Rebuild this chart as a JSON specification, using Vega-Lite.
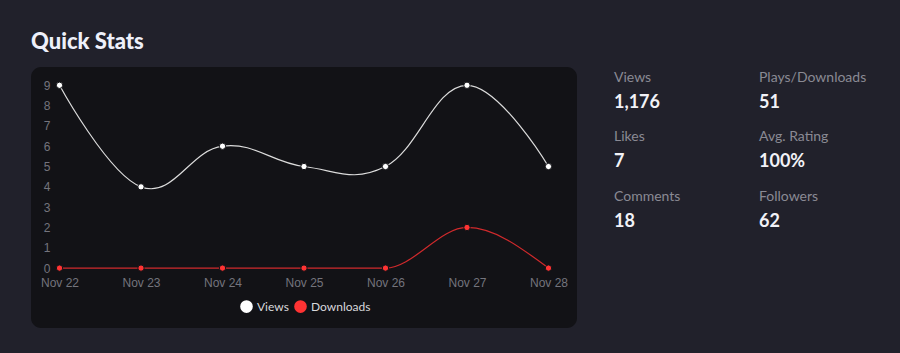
{
  "$schema": "https://vega.github.io/schema/vega-lite/v6.json",
  "background": "#21212b",
  "padding": {"left": 31, "top": 31, "right": 40, "bottom": 30},
  "title": {"text": "Quick Stats", "anchor": "start", "font": "Lato", "fontSize": 22, "fontWeight": 900, "color": "#eef0fa", "offset": 13},
  "config": {"view": {"stroke": null}},
  "spacing": 37,
  "hconcat": [
    {
      "width": 546,
      "height": 261,
      "view": {"fill": "#121216", "cornerRadius": 10, "stroke": null},
      "data": {"values": [
        {"date": "Nov 22", "series": "Views", "value": 9},
        {"date": "Nov 23", "series": "Views", "value": 4},
        {"date": "Nov 24", "series": "Views", "value": 6},
        {"date": "Nov 25", "series": "Views", "value": 5},
        {"date": "Nov 26", "series": "Views", "value": 5},
        {"date": "Nov 27", "series": "Views", "value": 9},
        {"date": "Nov 28", "series": "Views", "value": 5},
        {"date": "Nov 22", "series": "Downloads", "value": 0},
        {"date": "Nov 23", "series": "Downloads", "value": 0},
        {"date": "Nov 24", "series": "Downloads", "value": 0},
        {"date": "Nov 25", "series": "Downloads", "value": 0},
        {"date": "Nov 26", "series": "Downloads", "value": 0},
        {"date": "Nov 27", "series": "Downloads", "value": 2},
        {"date": "Nov 28", "series": "Downloads", "value": 0}
      ]},
      "encoding": {
        "x": {"field": "date", "type": "ordinal", "sort": null,
          "scale": {"type": "point", "padding": 0.35},
          "axis": {"orient": "bottom", "offset": -55, "ticks": false, "domain": false, "labelPadding": 4, "labelAngle": 0, "title": null, "labelColor": "#74747d", "labelFont": "Liberation Sans", "labelFontSize": 12, "grid": false}},
        "y": {"field": "value", "type": "quantitative",
          "scale": {"domain": [-2.95, 9.9], "nice": false, "zero": false},
          "axis": {"values": [0, 1, 2, 3, 4, 5, 6, 7, 8, 9], "offset": -29, "ticks": false, "labelPadding": 10, "domain": false, "grid": false, "title": null, "labelColor": "#74747d", "labelFont": "Liberation Sans", "labelFontSize": 12}},
        "color": {"field": "series", "type": "nominal", "sort": null,
          "scale": {"domain": ["Views", "Downloads"], "range": ["#ffffff", "#ff3333"]},
          "legend": {"orient": "none", "legendX": 209, "legendY": 233, "direction": "horizontal", "title": null, "symbolType": "circle", "symbolSize": 160, "symbolStrokeWidth": 0, "labelFont": "Lato", "labelFontSize": 12, "labelColor": "#d8d8dc", "columnPadding": 5, "labelOffset": 4}}
      },
      "layer": [
        {"transform": [{"filter": "datum.series === 'Views'"}],
         "mark": {"type": "line", "interpolate": "cardinal", "tension": -0.2, "strokeWidth": 1.2},
         "encoding": {"color": {"value": "#dcdcdc"}}},
        {"transform": [{"filter": "datum.series === 'Downloads'"}],
         "mark": {"type": "line", "interpolate": "monotone", "strokeWidth": 1.2},
         "encoding": {"color": {"value": "#d02a2c"}}},
        {"mark": {"type": "point", "filled": true, "size": 40, "opacity": 1, "stroke": "#121216", "strokeWidth": 1}}
      ]
    },
    {
      "width": 145,
      "height": 261,
      "view": {"fill": null, "stroke": null},
      "data": {"values": [
        {"col": 0, "row": 0, "label": "Views", "stat": "1,176"},
        {"col": 1, "row": 0, "label": "Plays/Downloads", "stat": "51"},
        {"col": 0, "row": 1, "label": "Likes", "stat": "7"},
        {"col": 1, "row": 1, "label": "Avg. Rating", "stat": "100%"},
        {"col": 0, "row": 2, "label": "Comments", "stat": "18"},
        {"col": 1, "row": 2, "label": "Followers", "stat": "62"}
      ]},
      "encoding": {
        "x": {"field": "col", "type": "quantitative", "scale": {"domain": [0, 1], "nice": false, "zero": false}, "axis": null},
        "y": {"field": "row", "type": "quantitative", "scale": {"domain": [-0.246, 4.126], "nice": false, "zero": false, "reverse": true}, "axis": null}
      },
      "layer": [
        {"mark": {"type": "text", "align": "left", "baseline": "alphabetic", "font": "Lato", "fontSize": 14, "color": "#8a8a94"},
         "encoding": {"text": {"field": "label"}}},
        {"mark": {"type": "text", "align": "left", "baseline": "alphabetic", "font": "Lato", "fontSize": 18, "fontWeight": "bold", "color": "#f2f2f7", "dy": 26},
         "encoding": {"text": {"field": "stat"}}}
      ]
    }
  ]
}
